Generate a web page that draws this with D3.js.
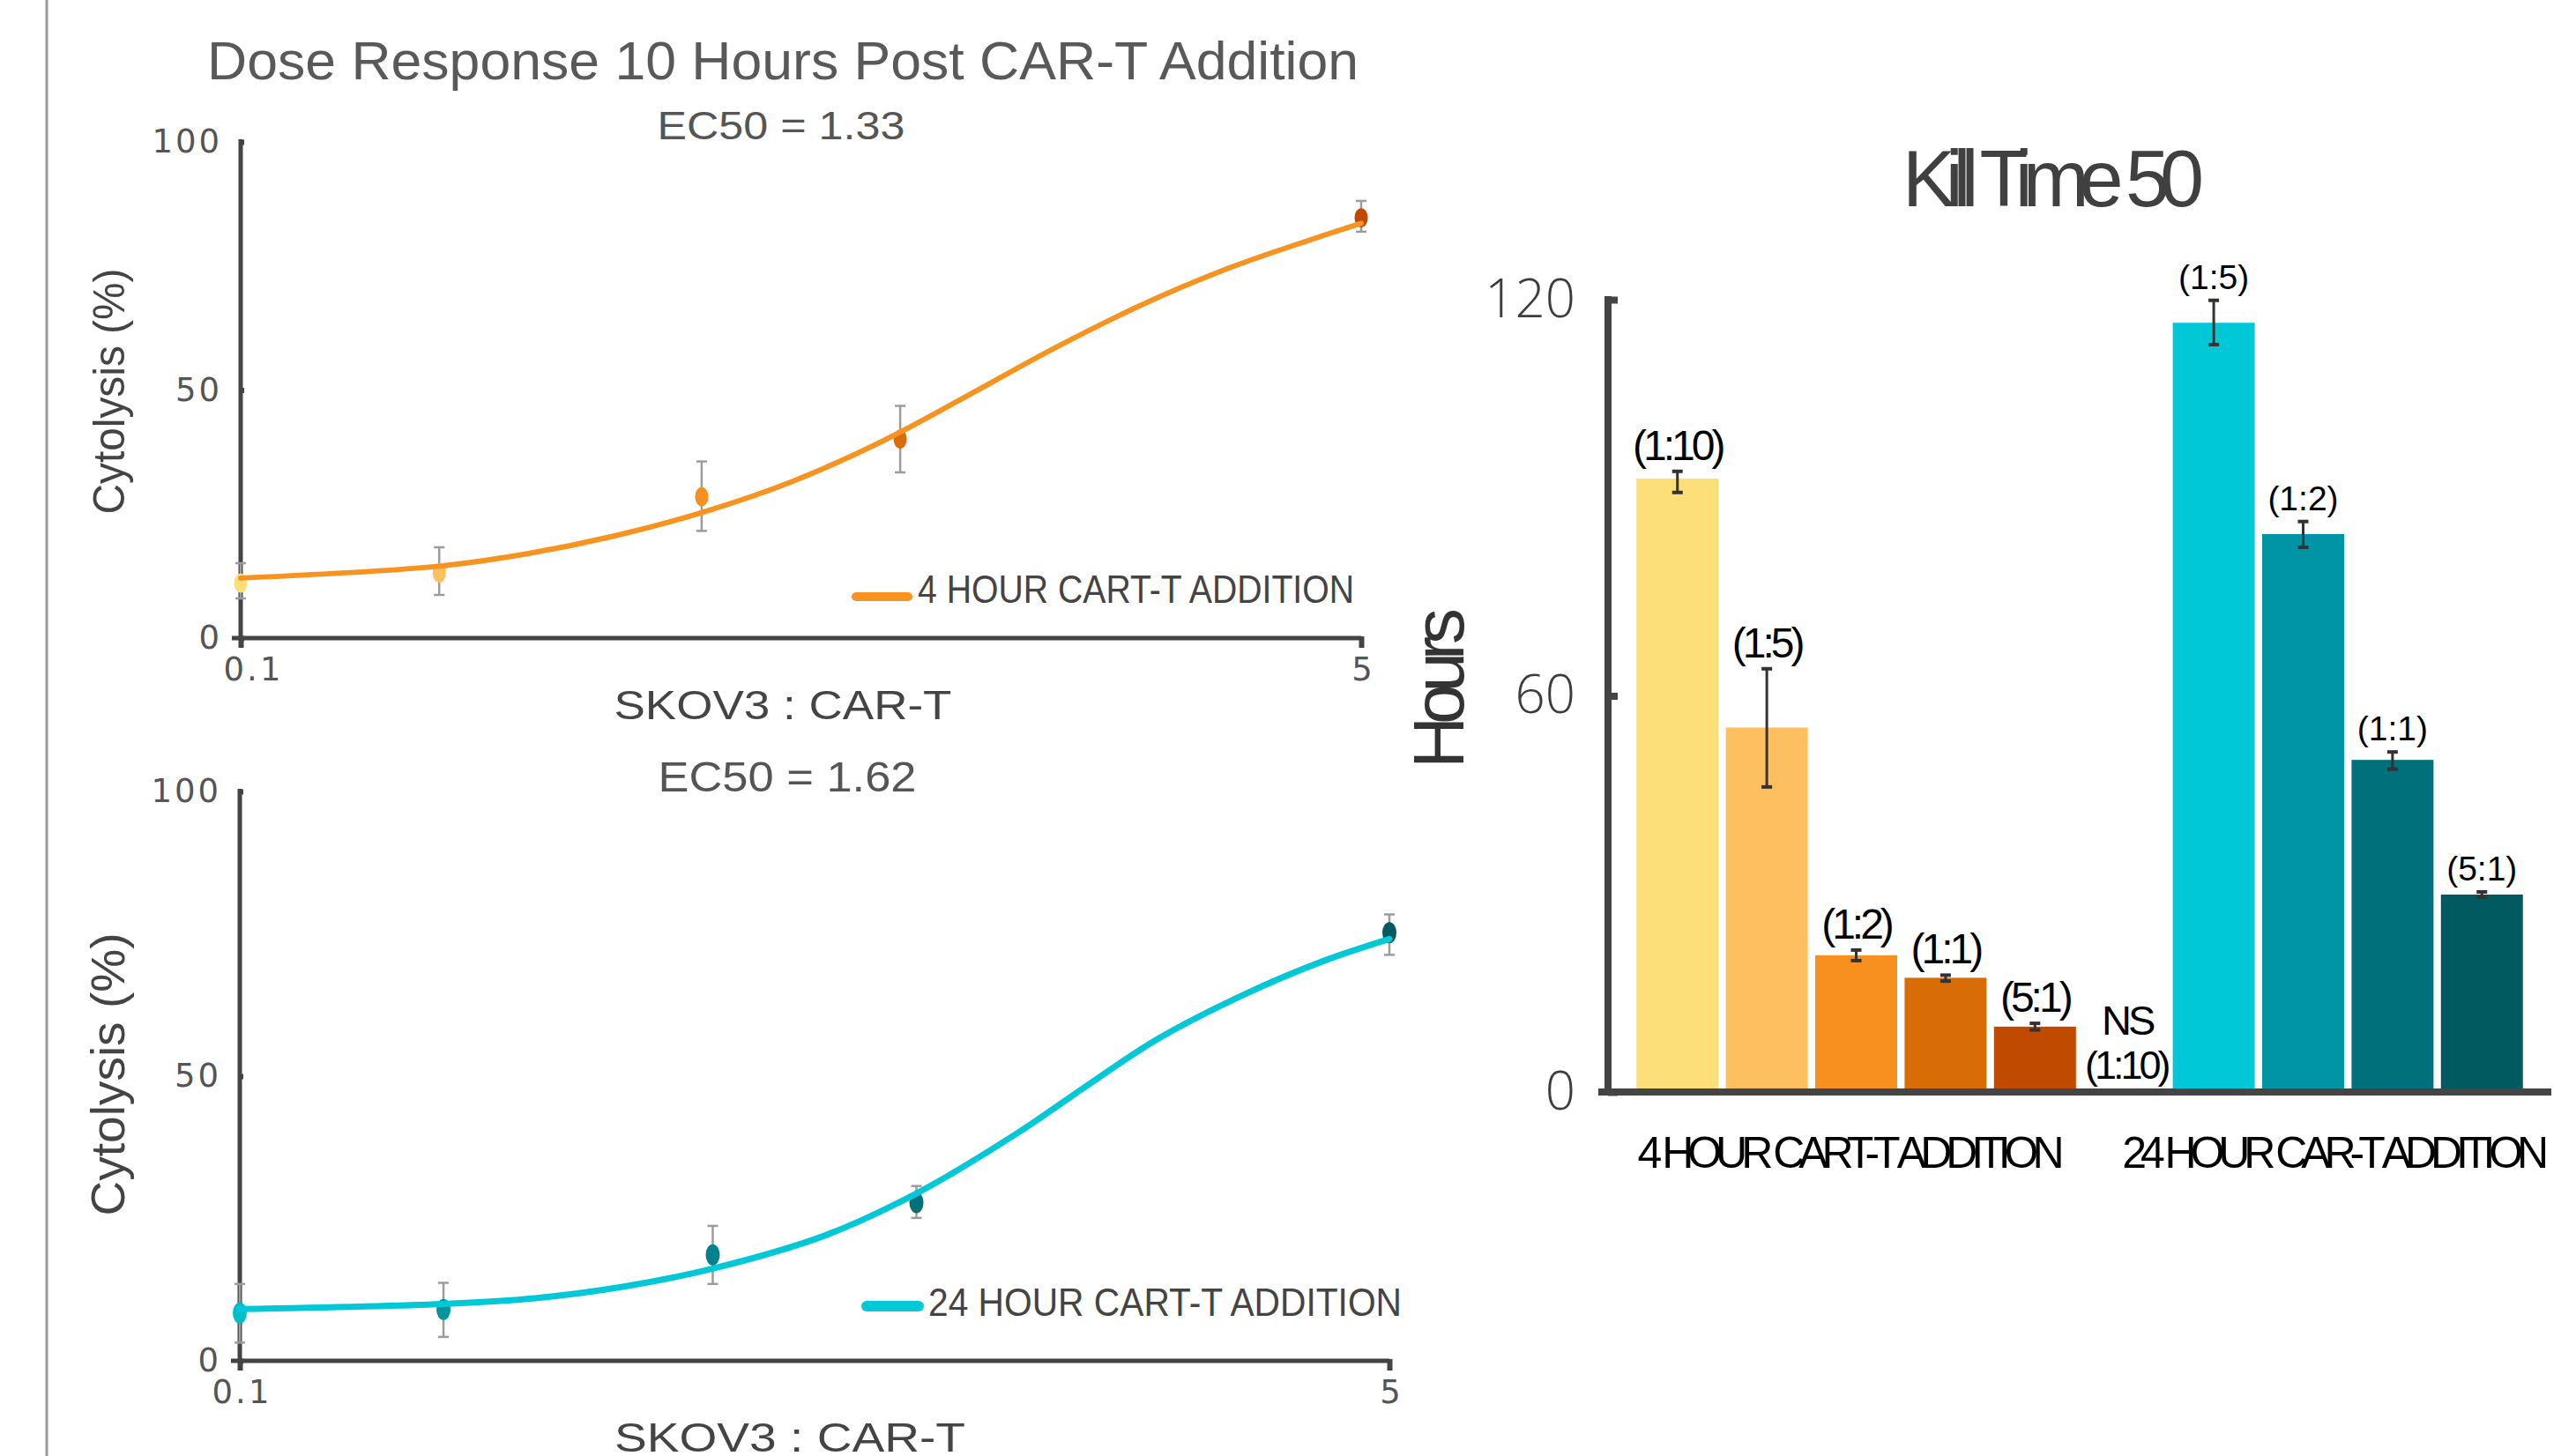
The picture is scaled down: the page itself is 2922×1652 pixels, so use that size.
<!DOCTYPE html>
<html>
<head>
<meta charset="utf-8">
<script src="https://cdn.jsdelivr.net/npm/d3@7"></script>
<style>
  html, body { margin: 0; padding: 0; background: #ffffff; }
  svg { display: block; }
  text { font-family: "Liberation Sans", Arial, Helvetica, sans-serif; }
</style>
</head>
<body>
<svg id="chart" width="2922" height="1652"></svg>
<script>
// ---------- data ----------
// SKOV3 : CAR-T ratios tested
const ratios = [0.1, 0.2, 0.5, 1, 5];
const cytoTicks = [0, 50, 100];

// 4 hour CAR-T addition: cytolysis (%) 10 h post addition
const cyto4hMean = [11.1, 13.1, 28.5, 40.1, 84.7];
const cyto4hLow  = [8.0, 8.7, 21.6, 33.4, 81.9];
const cyto4hHigh = [15.1, 18.3, 35.6, 46.8, 88.1];
// fitted dose-response curve (ratio, cytolysis %)
const fit4hX = [0.1, 0.2, 0.272, 0.369, 0.5, 0.681, 0.924, 1.255, 1.7, 2.31, 3.14, 4.26, 5];
const fit4hY = [12.1, 14.5, 17.0, 20.6, 25.3, 31.4, 39.2, 48.6, 58.2, 67.0, 74.5, 80.6, 83.6];
const ec50_4h = "1.33";

// 24 hour CAR-T addition
const cyto24hMean = [8.4, 9.0, 18.6, 27.8, 75.2];
const cyto24hLow  = [3.2, 4.2, 13.5, 25.1, 71.3];
const cyto24hHigh = [13.5, 13.7, 23.7, 30.7, 78.4];
const fit24hX = [0.1, 0.2, 0.273, 0.368, 0.5, 0.732, 1, 1.41, 1.79, 2.27, 3.07, 4.01, 5];
const fit24hY = [9.1, 10.0, 11.0, 13.0, 16.2, 22.0, 29.4, 40.0, 48.4, 56.5, 64.5, 70.3, 74.1];
const ec50_24h = "1.62";

// Kill time 50 (hours)
const killGroups = ["4 HOUR CART-T ADDITION", "24 HOUR CAR-T ADDITION"];
const kill4hLabels = ["(1:10)", "(1:5)", "(1:2)", "(1:1)", "(5:1)"];
const kill4hHours  = [92.9, 55.2, 20.7, 17.3, 9.9];
const kill4hLow    = [90.8, 46.2, 19.9, 16.8, 9.4];
const kill4hHigh   = [94.0, 64.1, 21.5, 17.7, 10.4];
const kill24hNSLabel = "(1:10)";
const kill24hLabels = ["(1:5)", "(1:2)", "(1:1)", "(5:1)"];
const kill24hHours  = [116.5, 84.5, 50.3, 29.9];
const kill24hLow    = [113.2, 82.5, 48.9, 29.5];
const kill24hHigh   = [119.9, 86.4, 51.5, 30.3];
const killTicks = [0, 60, 120];

// ---------- palette ----------
const orangeShades = ["#FDDF7A", "#FEC05E", "#F7901E", "#D86C07", "#BF4A00"];
const tealShades   = ["#00C8D6", "#0094A7", "#00717A", "#005A60"];
const tealMarkers  = ["#00BDCA", "#00949F", "#00818D", "#006F78", "#005A60"];
const axisColor = "#444444";

const svg = d3.select("#chart");

// thin page border on the left
svg.append("line")
  .attr("x1", 53).attr("x2", 53).attr("y1", 0).attr("y2", 1652)
  .attr("stroke", "#9a9a9a").attr("stroke-width", 3);

// ---------- dose-response panels ----------
function dosePanel(cfg) {
  const g = svg.append("g");
  const x = d3.scaleLog().domain([0.1, 5]).range([cfg.x0, cfg.x1]);
  const y = d3.scaleLinear().domain([0, 100]).range([cfg.y0, cfg.y1]);

  // y axis
  const ya = g.append("g")
    .attr("transform", `translate(${cfg.x0},0)`)
    .call(d3.axisLeft(y).tickValues(cytoTicks).tickSize(10).tickSizeOuter(0).tickPadding(11));
  // x axis
  const xa = g.append("g")
    .attr("transform", `translate(0,${cfg.y0})`)
    .call(d3.axisBottom(x).tickValues([0.1, 5]).tickFormat(d3.format("")).tickSize(11).tickSizeOuter(0).tickPadding(11));

  [ya, xa].forEach(a => {
    a.select(".domain").attr("stroke", axisColor).attr("stroke-width", 5);
    a.selectAll(".tick line").attr("stroke", axisColor).attr("stroke-width", 6);
    a.selectAll(".tick text")
      .attr("fill", "#555555")
      .style("font-family", '"DejaVu Sans", Verdana, sans-serif')
      .style("font-size", "37px")
      .style("letter-spacing", "3px");
  });
  ya.selectAll(".tick line").attr("x2", 4);
  ya.select(".domain").attr("d", `M0,${cfg.y0 + 2.5}V${cfg.y1 - 3}`);
  xa.select(".domain").attr("d", `M${cfg.x0 - 10},0H${cfg.x1}`);
  xa.selectAll(".tick line").attr("y1", -2);
  xa.selectAll(".tick text").attr("dx", d => d === 0.1 ? cfg.firstTickDx : 2);

  const pts = ratios.map((r, i) => ({ r, m: cfg.mean[i], lo: cfg.low[i], hi: cfg.high[i], c: cfg.markers[i] }));

  // error bars
  const eb = g.append("g").attr("stroke", "#9c9c9c").attr("stroke-width", 2.5).attr("fill", "none");
  pts.forEach(p => {
    eb.append("line").attr("x1", x(p.r)).attr("x2", x(p.r)).attr("y1", y(p.lo)).attr("y2", y(p.hi));
    eb.append("line").attr("x1", x(p.r) - 6).attr("x2", x(p.r) + 6).attr("y1", y(p.lo)).attr("y2", y(p.lo));
    eb.append("line").attr("x1", x(p.r) - 6).attr("x2", x(p.r) + 6).attr("y1", y(p.hi)).attr("y2", y(p.hi));
  });

  // data points
  g.append("g").selectAll("ellipse").data(pts).join("ellipse")
    .attr("cx", d => x(d.r)).attr("cy", d => y(d.m))
    .attr("rx", cfg.rx).attr("ry", cfg.ry)
    .attr("fill", d => d.c);

  // fitted curve
  const fit = cfg.fitX.map((v, i) => [v, cfg.fitY[i]]);
  g.append("path")
    .datum(fit)
    .attr("fill", "none")
    .attr("stroke", cfg.color)
    .attr("stroke-width", cfg.lineWidth)
    .attr("stroke-linecap", "round")
    .attr("d", d3.line().x(d => x(d[0])).y(d => y(d[1])).curve(d3.curveCatmullRom.alpha(0.5)));

  // EC50 annotation
  g.append("text")
    .attr("x", cfg.ecX).attr("y", cfg.ecY)
    .attr("text-anchor", "middle")
    .attr("fill", "#555555")
    .style("font-size", cfg.ecSize + "px")
    .attr("textLength", cfg.ecLen).attr("lengthAdjust", "spacingAndGlyphs")
    .text("EC50 = " + cfg.ec50);

  // axis titles
  g.append("text")
    .attr("x", cfg.xlX).attr("y", cfg.xlY)
    .attr("text-anchor", "middle")
    .attr("fill", axisColor)
    .style("font-size", "46px")
    .attr("textLength", cfg.xlLen).attr("lengthAdjust", "spacingAndGlyphs")
    .text("SKOV3 : CAR-T");

  g.append("text")
    .attr("transform", `translate(${cfg.ylX},${cfg.ylY}) rotate(-90)`)
    .attr("text-anchor", "middle")
    .attr("fill", axisColor)
    .style("font-size", cfg.ylSize + "px")
    .attr("textLength", cfg.ylLen).attr("lengthAdjust", "spacingAndGlyphs")
    .text("Cytolysis (%)");

  // legend
  g.append("line")
    .attr("x1", cfg.lgX).attr("x2", cfg.lgX + 59)
    .attr("y1", cfg.lgY).attr("y2", cfg.lgY)
    .attr("stroke", cfg.color).attr("stroke-width", cfg.lgW).attr("stroke-linecap", "round");
  g.append("text")
    .attr("x", cfg.lgX + 70).attr("y", cfg.lgY + cfg.lgDy)
    .attr("fill", axisColor)
    .style("font-size", cfg.lgSize + "px")
    .attr("textLength", cfg.lgLen).attr("lengthAdjust", "spacingAndGlyphs")
    .text(cfg.legend);
}

// chart title
svg.append("text")
  .attr("x", 888).attr("y", 90)
  .attr("text-anchor", "middle")
  .attr("fill", "#595959")
  .style("font-size", "61px")
  .attr("textLength", 1306).attr("lengthAdjust", "spacingAndGlyphs")
  .text("Dose Response 10 Hours Post CAR-T Addition");

dosePanel({
  x0: 273, x1: 1544, y0: 724, y1: 161, firstTickDx: 14,
  mean: cyto4hMean, low: cyto4hLow, high: cyto4hHigh,
  fitX: fit4hX, fitY: fit4hY, color: "#F7931E", lineWidth: 6,
  markers: orangeShades, rx: 7.5, ry: 11,
  ec50: ec50_4h, ecX: 886, ecY: 158, ecSize: 44, ecLen: 281,
  xlX: 888, xlY: 816, xlLen: 383,
  ylX: 141, ylY: 444, ylSize: 50, ylLen: 279,
  lgX: 971, lgY: 677, lgW: 10, lgDy: 7, lgSize: 44, lgLen: 495,
  legend: "4 HOUR CART-T ADDITION"
});

dosePanel({
  x0: 272, x1: 1576, y0: 1544, y1: 898, firstTickDx: 2,
  mean: cyto24hMean, low: cyto24hLow, high: cyto24hHigh,
  fitX: fit24hX, fitY: fit24hY, color: "#00C8D6", lineWidth: 7,
  markers: tealMarkers, rx: 8, ry: 12,
  ec50: ec50_24h, ecX: 893, ecY: 898, ecSize: 48, ecLen: 293,
  xlX: 896, xlY: 1647, xlLen: 398,
  ylX: 141, ylY: 1219, ylSize: 54, ylLen: 321,
  lgX: 983, lgY: 1482, lgW: 12, lgDy: 11, lgSize: 45, lgLen: 537,
  legend: "24 HOUR CART-T ADDITION"
});

// ---------- Kill Time 50 bar chart ----------
const bars = [];
kill4hLabels.forEach((l, i) => bars.push({
  key: "g1-" + i, group: 0, label: l, value: kill4hHours[i],
  lo: kill4hLow[i], hi: kill4hHigh[i], color: orangeShades[i]
}));
bars.push({ key: "ns", group: 1, label: kill24hNSLabel, value: null });
kill24hLabels.forEach((l, i) => bars.push({
  key: "g2-" + i, group: 1, label: l, value: kill24hHours[i],
  lo: kill24hLow[i], hi: kill24hHigh[i], color: tealShades[i]
}));

const xb = d3.scaleBand().domain(bars.map(d => d.key))
  .range([1824, 2894]).paddingInner(0.083).paddingOuter(0.318);
const yb = d3.scaleLinear().domain([0, 120]).range([1239, 340]);
const bw = xb.bandwidth();
const kg = svg.append("g");

// bars
const drawn = bars.filter(d => d.value !== null);
kg.append("g").selectAll("rect").data(drawn).join("rect")
  .attr("x", d => xb(d.key)).attr("width", bw)
  .attr("y", d => yb(d.value)).attr("height", d => yb(0) - yb(d.value))
  .attr("fill", d => d.color);

// error bars
const keb = kg.append("g").attr("stroke", "#333333").attr("fill", "none");
drawn.forEach(d => {
  const cx = xb(d.key) + bw / 2;
  keb.append("line").attr("x1", cx).attr("x2", cx).attr("y1", yb(d.lo)).attr("y2", yb(d.hi)).attr("stroke-width", 3);
  keb.append("line").attr("x1", cx - 6).attr("x2", cx + 6).attr("y1", yb(d.lo)).attr("y2", yb(d.lo)).attr("stroke-width", 4);
  keb.append("line").attr("x1", cx - 6).attr("x2", cx + 6).attr("y1", yb(d.hi)).attr("y2", yb(d.hi)).attr("stroke-width", 4);
});

// ratio labels above each bar
kg.append("g").selectAll("text").data(drawn).join("text")
  .attr("x", d => xb(d.key) + bw / 2)
  .attr("y", d => yb(d.hi) - 13)
  .attr("text-anchor", "middle")
  .attr("fill", "#000000")
  .style("font-size", d => d.group === 0 ? "48px" : "39px")
  .style("letter-spacing", d => d.group === 0 ? "-4px" : "0px")
  .text(d => d.label);

// not-significant slot
const nsX = xb("ns") + bw / 2;
kg.append("text").attr("x", nsX + 3).attr("y", 1174).attr("text-anchor", "middle")
  .attr("fill", "#000000").style("font-size", "47px").style("letter-spacing", "-4px").text("NS");
kg.append("text").attr("x", nsX + 2).attr("y", 1224).attr("text-anchor", "middle")
  .attr("fill", "#000000").style("font-size", "45px").style("letter-spacing", "-4px").text(kill24hNSLabel);

// axes
const kya = kg.append("g").attr("transform", "translate(1824,0)")
  .call(d3.axisLeft(yb).tickValues(killTicks).tickSize(11).tickSizeOuter(0).tickPadding(26));
kya.select(".domain").attr("stroke", axisColor).attr("stroke-width", 8)
  .attr("d", `M0,${yb(0) + 4}V${yb(120) - 4}`);
kya.selectAll(".tick line").attr("stroke", axisColor).attr("stroke-width", 8).attr("x2", 11);
kya.selectAll(".tick text")
  .attr("fill", "#3c3c3c")
  .style("font-family", '"Open Sans", "DejaVu Sans", sans-serif')
  .style("font-weight", 300)
  .style("font-size", "60px");

kg.append("line")
  .attr("x1", 1813).attr("x2", xb.range()[1])
  .attr("y1", yb(0)).attr("y2", yb(0))
  .attr("stroke", axisColor).attr("stroke-width", 8);

// group labels
[0, 1].forEach(gi => {
  const members = drawn.filter(d => d.group === gi);
  const left = xb(members[0].key);
  const right = xb(members[members.length - 1].key) + bw;
  kg.append("text")
    .attr("x", (left + right) / 2 - (gi === 0 ? 6 : 14)).attr("y", 1325)
    .attr("text-anchor", "middle")
    .attr("fill", "#000000")
    .style("font-size", "50px")
    .attr("textLength", 484).attr("lengthAdjust", "spacing")
    .text(killGroups[gi]);
});

// title and axis label
kg.append("text")
  .attr("x", 2329).attr("y", 234).attr("text-anchor", "middle")
  .attr("fill", "#404040")
  .style("font-size", "90px")
  .attr("textLength", 342).attr("lengthAdjust", "spacing")
  .text("Kill Time 50");

kg.append("text")
  .attr("transform", "translate(1660,781) rotate(-90)")
  .attr("text-anchor", "middle")
  .attr("fill", "#333333")
  .style("font-size", "82px")
  .attr("textLength", 182).attr("lengthAdjust", "spacing")
  .text("Hours");
</script>
</body>
</html>
